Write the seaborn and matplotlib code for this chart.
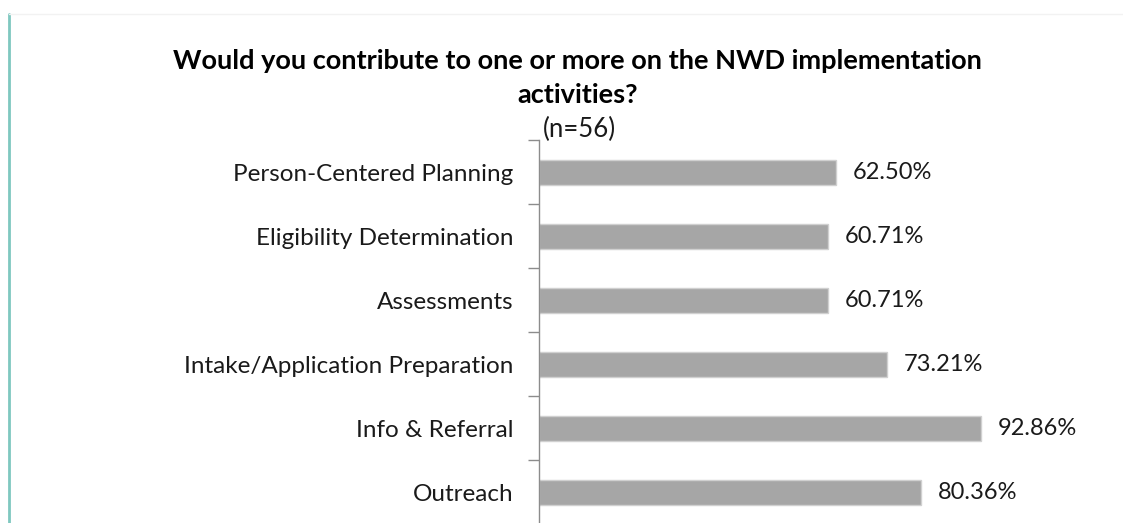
import matplotlib
matplotlib.use("Agg")
import matplotlib.pyplot as plt
from matplotlib.lines import Line2D
import numpy as np
import pandas as pd
import seaborn as sns

activities = [
    "Person-Centered Planning",
    "Eligibility Determination",
    "Assessments",
    "Intake/Application Preparation",
    "Info & Referral",
    "Outreach",
]
percentages = [62.50, 60.71, 60.71, 73.21, 92.86, 80.36]

df = pd.DataFrame({"activity": activities, "pct": percentages})

sns.set_theme(style="white")
plt.rcParams["font.family"] = ["Lato", "DejaVu Sans"]

fig = plt.figure(figsize=(11.23, 5.23), dpi=100)
ax = fig.add_axes([0.48, -0.002, 0.50, 0.734])

sns.barplot(data=df, y="activity", x="pct", orient="h", color="#a6a6a6",
            saturation=1, width=0.39, edgecolor="#d0d0d0", linewidth=1.0, ax=ax)

ax.set_xlim(0, 118)
ax.set_ylim(len(activities) - 0.5, -0.5)
ax.set_xlabel("")
ax.set_ylabel("")
ax.set_xticks([])
for side in ("top", "right", "bottom"):
    ax.spines[side].set_visible(False)
ax.spines["left"].set_color("#8c8c8c")
ax.spines["left"].set_linewidth(1.0)

ax.tick_params(axis="y", which="major", left=False, length=0, pad=18.5,
               labelsize=17.5, labelcolor="#1a1a1a")
ax.set_yticks(np.arange(-0.5, len(activities), 1.0), minor=True)
ax.tick_params(axis="y", which="minor", left=True, length=8, color="#8c8c8c",
               width=1.0)

for i, v in enumerate(percentages):
    ax.text(v + 3.5, i, f"{v:.2f}%", va="center", ha="left",
            fontsize=17, color="#1a1a1a")

fig.text(0.514, 1 - 61 / 523, "Would you contribute to one or more on the NWD implementation",
         ha="center", va="center", fontsize=19.5, fontweight="bold", color="black")
fig.text(0.514, 1 - 95 / 523, "activities?", ha="center", va="center",
         fontsize=19.5, fontweight="bold", color="black")
fig.text(0.516, 1 - 129 / 523, "(n=56)", ha="center", va="center", fontsize=18.5,
         color="#1a1a1a")

# frame lines on the left and top
fig.add_artist(Line2D([9 / 1123, 9 / 1123], [0, 1 - 14 / 523],
                      transform=fig.transFigure, color="#7fc8c0", linewidth=2))
fig.add_artist(Line2D([9 / 1123, 1], [1 - 14 / 523, 1 - 14 / 523],
                      transform=fig.transFigure, color="#f2f2f2", linewidth=1))

fig.savefig("out.png", dpi=100)
